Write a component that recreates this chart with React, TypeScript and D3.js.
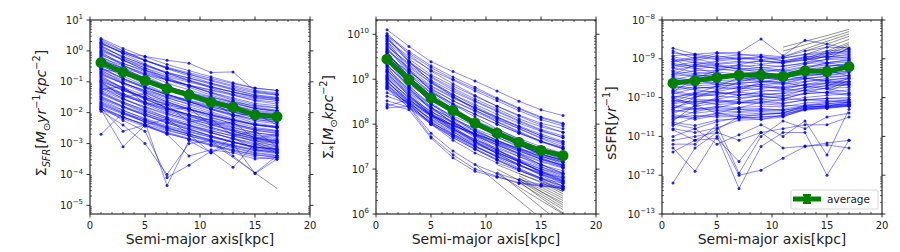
import React from 'react';
import * as d3 from 'd3';

// ---------- data ----------
const radii = [1, 3, 5, 7, 9, 11, 13, 15, 17];
const xTicks = [0, 5, 10, 15, 20];

// log10 Sigma_SFR per galaxy at each radius
const sfrLog: number[][] = [
  [0.40, 0.08, -0.19, -0.44, -0.64, -0.84, -1.03, -1.20, -1.28],
  [0.32, -0.01, -0.29, -0.55, -0.76, -0.97, -1.16, -1.33, -1.42],
  [0.28, -0.10, -0.42, -0.72, -0.96, -1.20, -1.42, -1.62, -1.72],
  [0.22, -0.07, -0.31, -0.53, -0.71, -0.89, -1.06, -1.21, -1.28],
  [0.18, -0.22, -0.56, -0.87, -1.12, -1.37, -1.60, -1.82, -1.92],
  [0.12, -0.19, -0.45, -0.69, -0.88, -1.08, -1.26, -1.42, -1.50],
  [0.06, -0.30, -0.61, -0.89, -1.12, -1.35, -1.56, -1.75, -1.84],
  [0.02, -0.26, -0.49, -0.71, -0.88, -1.05, -1.21, -1.36, -1.43],
  [-0.04, -0.46, -0.81, -1.14, -1.40, -1.67, -1.91, -2.13, -2.24],
  [-0.08, -0.40, -0.68, -0.93, -1.13, -1.34, -1.52, -1.70, -1.78],
  [-0.14, -0.41, -0.63, -0.84, -1.01, -1.18, -1.33, -1.47, -1.54],
  [-0.18, -0.56, -0.88, -1.18, -1.42, -1.66, -1.88, -2.08, -2.18],
  [-0.24, -0.58, -0.87, -1.14, -1.36, -1.57, -1.77, -1.95, -2.04],
  [-0.30, -0.55, -0.76, -0.95, -1.11, -1.26, -1.40, -1.54, -1.60],
  [-0.34, -0.74, -1.08, -1.39, -1.64, -1.89, -2.12, -2.34, -2.44],
  [-0.40, -0.70, -0.96, -1.20, -1.39, -1.58, -1.76, -1.92, -2.00],
  [-0.46, -0.82, -1.13, -1.41, -1.64, -1.87, -2.08, -2.27, -2.36],
  [-0.50, -0.76, -0.97, -1.18, -1.34, -1.50, -1.65, -1.78, -1.85],
  [-0.56, -0.89, -1.17, -1.44, -1.65, -1.86, -2.05, -2.22, -2.31],
  [-0.62, -1.01, -1.34, -1.65, -1.89, -2.14, -2.36, -2.57, -2.67],
  [-0.66, -0.95, -1.19, -1.41, -1.59, -1.77, -1.94, -2.09, -2.16],
  [-0.72, -1.07, -1.37, -1.65, -1.87, -2.09, -2.29, -2.48, -2.57],
  [-0.78, -1.05, -1.27, -1.48, -1.65, -1.82, -1.97, -2.11, -2.18],
  [-0.84, -1.22, -1.54, -1.84, -2.08, -2.32, -2.54, -2.74, -2.84],
  [-0.88, -1.18, -1.44, -1.68, -1.87, -2.06, -2.24, -2.40, -2.48],
  [-0.94, -1.28, -1.57, -1.84, -2.06, -2.27, -2.47, -2.65, -2.74],
  [-1.00, -1.28, -1.51, -1.73, -1.90, -2.07, -2.23, -2.38, -2.45],
  [-1.06, -1.42, -1.73, -2.01, -2.24, -2.47, -2.68, -2.87, -2.96],
  [-1.10, -1.39, -1.64, -1.88, -2.06, -2.25, -2.42, -2.57, -2.65],
  [-1.16, -1.54, -1.86, -2.16, -2.40, -2.64, -2.86, -3.06, -3.16],
  [-1.22, -1.54, -1.82, -2.07, -2.27, -2.48, -2.66, -2.84, -2.92],
  [-1.28, -1.57, -1.81, -2.03, -2.21, -2.39, -2.56, -2.71, -2.78],
  [-1.34, -1.70, -2.01, -2.29, -2.52, -2.75, -2.96, -3.15, -3.24],
  [-1.40, -1.70, -1.96, -2.20, -2.39, -2.58, -2.76, -2.92, -3.00],
  [-1.46, -1.79, -2.07, -2.34, -2.55, -2.76, -2.95, -3.12, -3.21],
  [-1.52, -1.80, -2.03, -2.25, -2.42, -2.59, -2.75, -2.90, -2.97],
  [-1.58, -1.92, -2.21, -2.48, -2.70, -2.91, -3.11, -3.29, -3.38],
  [-1.64, -1.93, -2.18, -2.42, -2.60, -2.79, -2.96, -3.11, -3.19],
  [-1.70, -2.02, -2.30, -2.55, -2.75, -2.96, -3.14, -3.32, -3.40],
  [-1.76, -2.05, -2.29, -2.51, -2.69, -2.87, -3.04, -3.19, -3.26],
  [-1.84, -2.14, -2.40, -2.64, -2.83, -3.02, -3.20, -3.36, -3.44],
  [-1.90, -2.19, -2.44, -2.68, -2.86, -3.05, -3.22, -3.37, -3.45],
  [0.37, 0.01, -0.30, -0.58, -0.81, -1.04, -1.25, -1.44, -1.53],
  [0.24, -0.06, -0.32, -0.56, -0.75, -0.94, -1.12, -1.28, -1.36],
  [0.15, -0.18, -0.46, -0.73, -0.94, -1.15, -1.34, -1.51, -1.60],
  [0.09, -0.30, -0.63, -0.94, -1.18, -1.43, -1.65, -1.86, -1.96],
  [-0.01, -0.30, -0.55, -0.79, -0.97, -1.16, -1.33, -1.48, -1.56],
  [-0.11, -0.46, -0.76, -1.04, -1.26, -1.48, -1.68, -1.87, -1.96],
  [-0.21, -0.49, -0.72, -0.94, -1.11, -1.28, -1.44, -1.59, -1.66],
  [-0.27, -0.65, -0.97, -1.27, -1.51, -1.75, -1.97, -2.17, -2.27],
  [-0.37, -0.69, -0.97, -1.22, -1.42, -1.63, -1.81, -1.99, -2.07],
  [-0.43, -0.72, -0.96, -1.18, -1.36, -1.54, -1.71, -1.86, -1.93],
  [-0.53, -0.90, -1.21, -1.51, -1.74, -1.97, -2.19, -2.38, -2.48],
  [-0.59, -0.90, -1.17, -1.42, -1.61, -1.81, -1.99, -2.16, -2.24],
  [-0.69, -1.03, -1.32, -1.59, -1.81, -2.02, -2.22, -2.40, -2.49],
  [-0.75, -1.04, -1.29, -1.53, -1.71, -1.90, -2.07, -2.22, -2.30],
  [-0.81, -1.21, -1.55, -1.86, -2.11, -2.36, -2.59, -2.81, -2.91],
  [-0.91, -1.23, -1.51, -1.76, -1.96, -2.17, -2.35, -2.53, -2.61],
  [-0.97, -1.26, -1.50, -1.72, -1.90, -2.08, -2.25, -2.40, -2.47],
  [-1.03, -1.38, -1.68, -1.96, -2.18, -2.40, -2.60, -2.79, -2.88],
  [-1.13, -1.43, -1.69, -1.93, -2.12, -2.31, -2.49, -2.65, -2.73],
  [-1.19, -1.46, -1.68, -1.89, -2.06, -2.23, -2.38, -2.52, -2.59],
  [-1.31, -1.65, -1.94, -2.21, -2.43, -2.64, -2.84, -3.02, -3.11],
  [-1.37, -1.66, -1.91, -2.15, -2.33, -2.52, -2.69, -2.84, -2.92],
  [-1.49, -1.81, -2.09, -2.34, -2.54, -2.75, -2.93, -3.11, -3.19],
  [-1.55, -1.84, -2.08, -2.30, -2.48, -2.66, -2.83, -2.98, -3.05],
  [-1.67, -1.98, -2.25, -2.50, -2.69, -2.89, -3.07, -3.24, -3.32],
  [-1.73, -2.01, -2.24, -2.46, -2.63, -2.80, -2.96, -3.11, -3.18],
  [-1.81, -2.13, -2.41, -2.66, -2.86, -3.07, -3.25, -3.43, -3.51],
  [-1.88, -2.15, -2.37, -2.58, -2.75, -2.92, -3.07, -3.21, -3.28],
  [0.26, -0.06, -0.18, -0.30, -0.40, -0.70, -0.68, -1.30, -1.40],
  [-0.60, -0.70, -1.05, -1.10, -1.50, -1.62, -2.10, -2.02, -2.40],
  [-1.00, -1.50, -1.38, -1.90, -1.85, -2.40, -2.30, -2.85, -2.70],
  [-1.25, -1.15, -1.70, -1.75, -2.30, -2.20, -2.75, -2.60, -3.10],
  [-1.90, -3.10, -2.40, -2.70, -3.40, -3.20, -3.30, -3.50, -3.45],
  [-2.70, -2.00, -2.30, -4.36, -2.90, -3.30, -3.00, -3.97, -3.50],
  [-1.80, -2.25, -2.60, -4.10, -3.70, -3.25, -3.77, -3.00, -3.30],
  [-1.95, -2.40, -3.00, -4.00, -3.00, -2.90, -3.40, -3.95, -3.40],
  [-1.85, -2.60, -2.40, -2.20, -2.70, -3.30, -2.80, -3.20, -3.30],
];
const sfrBlack = [
  { from: 11, v: [-2.95, -3.45, -3.95, -4.45] },
  { from: 13, v: [-2.60, -2.80, -3.00] },
  { from: 13, v: [-2.70, -2.95, -3.20] },
  { from: 15, v: [-2.90, -3.10] },
];
const sfrAvg = [0.42, 0.21, 0.11, 0.06, 0.038, 0.022, 0.015, 0.0085, 0.0075];

// log10 Sigma_* per galaxy
const massLog: number[][] = [
  [10.10, 9.73, 9.39, 9.17, 8.96, 8.74, 8.51, 8.32, 8.19],
  [10.02, 9.55, 9.18, 8.90, 8.64, 8.40, 8.18, 7.98, 7.82],
  [9.95, 9.40, 8.95, 8.62, 8.32, 8.06, 7.84, 7.62, 7.45],
  [9.90, 9.45, 9.10, 8.85, 8.62, 8.40, 8.20, 8.02, 7.90],
  [9.85, 9.22, 8.74, 8.38, 8.05, 7.78, 7.55, 7.32, 7.15],
  [9.80, 9.30, 8.92, 8.62, 8.36, 8.12, 7.90, 7.68, 7.50],
  [9.75, 9.32, 8.98, 8.72, 8.50, 8.28, 8.06, 7.86, 7.70],
  [9.70, 9.12, 8.68, 8.34, 8.04, 7.78, 7.54, 7.30, 7.10],
  [9.66, 9.18, 8.80, 8.52, 8.28, 8.05, 7.82, 7.62, 7.46],
  [9.62, 8.98, 8.46, 8.08, 7.74, 7.44, 7.18, 6.92, 6.72],
  [9.58, 9.05, 8.64, 8.32, 8.04, 7.78, 7.55, 7.34, 7.18],
  [9.55, 9.12, 8.78, 8.52, 8.30, 8.10, 7.90, 7.70, 7.55],
  [9.50, 8.94, 8.48, 8.14, 7.84, 7.58, 7.34, 7.10, 6.90],
  [9.46, 8.98, 8.58, 8.28, 8.04, 7.80, 7.58, 7.38, 7.21],
  [9.42, 8.82, 8.30, 7.94, 7.62, 7.34, 7.10, 6.86, 6.62],
  [9.38, 8.94, 8.58, 8.30, 8.06, 7.84, 7.64, 7.44, 7.28],
  [9.34, 8.80, 8.36, 8.04, 7.76, 7.50, 7.28, 7.06, 6.84],
  [9.30, 8.88, 8.55, 8.30, 8.08, 7.88, 7.68, 7.50, 7.35],
  [9.26, 8.76, 8.34, 8.04, 7.78, 7.54, 7.32, 7.10, 6.91],
  [9.22, 8.66, 8.18, 7.84, 7.52, 7.26, 7.02, 6.80, 6.57],
  [9.18, 8.74, 8.38, 8.10, 7.86, 7.64, 7.44, 7.24, 7.08],
  [9.14, 8.62, 8.20, 7.88, 7.62, 7.38, 7.16, 6.94, 6.74],
  [9.10, 8.70, 8.36, 8.12, 7.90, 7.70, 7.52, 7.34, 7.20],
  [9.06, 8.56, 8.16, 7.86, 7.60, 7.38, 7.16, 6.96, 6.76],
  [9.02, 8.58, 8.24, 7.98, 7.76, 7.54, 7.34, 7.16, 7.02],
  [8.98, 8.44, 8.02, 7.70, 7.44, 7.20, 6.98, 6.76, 6.54],
  [8.94, 8.54, 8.22, 7.98, 7.78, 7.58, 7.40, 7.22, 7.09],
  [8.90, 8.42, 8.04, 7.76, 7.52, 7.30, 7.10, 6.90, 6.70],
  [8.86, 8.50, 8.20, 7.98, 7.78, 7.60, 7.44, 7.28, 7.16],
  [8.82, 8.36, 8.00, 7.74, 7.50, 7.28, 7.08, 6.88, 6.72],
  [8.78, 8.38, 8.04, 7.78, 7.56, 7.36, 7.18, 7.00, 6.88],
  [8.80, 8.46, 8.18, 7.96, 7.78, 7.62, 7.46, 7.32, 7.20],
  [9.98, 9.62, 9.30, 9.05, 8.82, 8.58, 8.36, 8.16, 8.02],
  [9.88, 9.50, 9.20, 8.98, 8.74, 8.52, 8.30, 8.10, 7.96],
  [9.72, 9.36, 9.06, 8.80, 8.56, 8.34, 8.12, 7.94, 7.82],
  [9.64, 9.26, 8.92, 8.66, 8.44, 8.22, 8.02, 7.84, 7.70],
  [9.52, 9.16, 8.84, 8.58, 8.36, 8.16, 7.96, 7.78, 7.62],
  [9.44, 9.02, 8.70, 8.44, 8.22, 8.00, 7.80, 7.62, 7.48],
  [9.96, 9.58, 9.26, 9.00, 8.78, 8.56, 8.34, 8.14, 8.00],
  [9.92, 9.38, 8.96, 8.66, 8.40, 8.16, 7.94, 7.74, 7.58],
  [9.84, 9.40, 9.04, 8.76, 8.52, 8.30, 8.08, 7.88, 7.74],
  [9.78, 9.20, 8.76, 8.44, 8.16, 7.90, 7.66, 7.44, 7.26],
  [9.68, 9.22, 8.86, 8.60, 8.36, 8.14, 7.94, 7.74, 7.60],
  [9.60, 9.06, 8.62, 8.28, 7.98, 7.72, 7.48, 7.26, 7.06],
  [9.54, 9.08, 8.72, 8.46, 8.22, 8.00, 7.80, 7.60, 7.45],
  [9.48, 8.86, 8.38, 8.02, 7.70, 7.42, 7.18, 6.94, 6.74],
  [9.40, 8.92, 8.52, 8.24, 7.98, 7.76, 7.54, 7.34, 7.18],
  [9.32, 8.84, 8.44, 8.14, 7.88, 7.64, 7.42, 7.22, 7.04],
  [9.28, 8.70, 8.24, 7.90, 7.60, 7.34, 7.10, 6.88, 6.68],
  [9.20, 8.78, 8.44, 8.18, 7.96, 7.76, 7.56, 7.38, 7.24],
  [9.16, 8.64, 8.22, 7.92, 7.66, 7.42, 7.20, 7.00, 6.82],
  [9.08, 8.64, 8.28, 8.02, 7.80, 7.60, 7.40, 7.22, 7.08],
  [9.04, 8.50, 8.06, 7.74, 7.46, 7.22, 7.00, 6.80, 6.62],
  [9.00, 8.60, 8.28, 8.04, 7.84, 7.64, 7.46, 7.28, 7.14],
  [8.96, 8.48, 8.10, 7.82, 7.58, 7.36, 7.16, 6.96, 6.80],
  [8.92, 8.52, 8.20, 7.96, 7.74, 7.54, 7.36, 7.18, 7.04],
  [8.88, 8.40, 8.00, 7.70, 7.44, 7.20, 6.98, 6.78, 6.62],
  [8.84, 8.44, 8.12, 7.88, 7.66, 7.46, 7.28, 7.10, 6.96],
  [8.45, 8.32, 7.69, 7.25, 6.95, 6.82, 6.70, 6.64, 6.56],
  [8.36, 8.40, 7.80, 7.40, 7.10, 6.90, 6.76, 6.66, 6.60],
  [8.52, 8.38, 7.72, 7.32, 7.00, 6.84, 6.68, 6.62, 6.58],
  [8.62, 8.45, 8.00, 7.64, 7.36, 7.14, 6.96, 6.80, 6.68],
  [8.70, 8.48, 8.10, 7.78, 7.50, 7.28, 7.08, 6.92, 6.80],
  [8.40, 8.55, 8.20, 7.90, 7.64, 7.42, 7.22, 7.04, 6.90],
];
const massBlack = [
  { from: 9, v: [7.10, 6.70, 6.30, 5.90, 5.50] },
  { from: 11, v: [6.95, 6.55, 6.15, 5.75] },
  { from: 11, v: [6.90, 6.60, 6.30, 6.00] },
  { from: 11, v: [7.00, 6.75, 6.50, 6.25] },
  { from: 11, v: [7.10, 6.90, 6.70, 6.50] },
  { from: 13, v: [6.80, 6.55, 6.30] },
  { from: 13, v: [6.75, 6.45, 6.15] },
  { from: 13, v: [6.85, 6.60, 6.35] },
  { from: 13, v: [6.70, 6.40, 6.10] },
  { from: 13, v: [6.80, 6.50, 6.20] },
  { from: 13, v: [6.72, 6.36, 6.02] },
  { from: 13, v: [6.90, 6.72, 6.55] },
  { from: 15, v: [6.70, 6.45] },
  { from: 15, v: [6.65, 6.40] },
  { from: 15, v: [6.75, 6.50] },
];
const massAvg = [2.8e9, 9.8e8, 3.8e8, 2.0e8, 1.05e8, 6.3e7, 3.9e7, 2.6e7, 2.0e7];

// log10 sSFR per galaxy
const ssfrLog: number[][] = [
  [-8.73, -8.88, -8.84, -8.84, -8.49, -8.92, -8.52, -8.62, -8.74],
  [-8.80, -9.00, -8.86, -8.88, -8.94, -9.05, -8.98, -9.10, -9.20],
  [-8.92, -8.88, -8.96, -8.90, -8.90, -8.95, -8.80, -8.70, -8.72],
  [-9.00, -9.10, -9.18, -9.25, -9.36, -9.44, -9.50, -9.58, -9.66],
  [-9.06, -8.96, -9.02, -8.98, -9.04, -9.10, -8.96, -8.86, -8.82],
  [-9.12, -9.20, -9.15, -9.28, -9.22, -9.30, -9.35, -9.30, -9.44],
  [-9.18, -9.08, -9.14, -9.10, -9.06, -9.12, -9.02, -8.94, -8.92],
  [-9.24, -9.34, -9.42, -9.48, -9.56, -9.62, -9.70, -9.78, -9.86],
  [-9.30, -9.18, -9.24, -9.20, -9.16, -9.20, -9.10, -9.02, -9.00],
  [-9.36, -9.46, -9.40, -9.52, -9.48, -9.56, -9.50, -9.56, -9.60],
  [-9.42, -9.30, -9.30, -9.24, -9.28, -9.30, -9.20, -9.12, -9.08],
  [-9.48, -9.56, -9.62, -9.66, -9.72, -9.78, -9.82, -9.88, -9.94],
  [-9.54, -9.42, -9.46, -9.38, -9.36, -9.40, -9.28, -9.20, -9.14],
  [-9.60, -9.70, -9.66, -9.72, -9.66, -9.74, -9.68, -9.64, -9.70],
  [-9.66, -9.54, -9.50, -9.44, -9.40, -9.42, -9.32, -9.26, -9.18],
  [-9.72, -9.80, -9.86, -9.92, -9.96, -10.02, -10.06, -10.08, -10.12],
  [-9.78, -9.64, -9.62, -9.56, -9.50, -9.50, -9.40, -9.34, -9.26],
  [-9.84, -9.92, -9.86, -9.94, -9.88, -9.96, -9.90, -9.86, -9.90],
  [-9.90, -9.76, -9.72, -9.64, -9.58, -9.58, -9.46, -9.38, -9.32],
  [-9.96, -10.04, -10.08, -10.12, -10.16, -10.20, -10.22, -10.24, -10.20],
  [-10.02, -9.86, -9.84, -9.74, -9.66, -9.64, -9.52, -9.44, -9.36],
  [-10.08, -10.16, -10.10, -10.14, -10.08, -10.14, -10.06, -10.02, -10.04],
  [-10.14, -9.98, -9.92, -9.84, -9.76, -9.72, -9.60, -9.50, -9.42],
  [-10.20, -10.28, -10.26, -10.30, -10.28, -10.32, -10.26, -10.20, -10.16],
  [-10.26, -10.10, -10.04, -9.94, -9.84, -9.80, -9.66, -9.56, -9.48],
  [-10.32, -10.40, -10.34, -10.36, -10.30, -10.34, -10.22, -10.16, -10.10],
  [-10.40, -10.22, -10.14, -10.04, -9.94, -9.88, -9.74, -9.62, -9.52],
  [-10.48, -10.56, -10.46, -10.44, -10.40, -10.42, -10.30, -10.24, -10.18],
  [-10.56, -10.36, -10.26, -10.14, -10.02, -9.96, -9.80, -9.68, -9.58],
  [-10.64, -10.72, -10.58, -10.54, -10.50, -10.48, -10.32, -10.28, -10.22],
  [-10.72, -10.50, -10.40, -10.26, -10.12, -10.04, -9.88, -9.74, -9.64],
  [-10.80, -10.90, -10.78, -10.58, -10.56, -10.50, -10.30, -10.26, -10.20],
  [-10.83, -11.10, -10.82, -10.50, -10.44, -10.40, -10.20, -10.12, -10.06],
  [-9.02, -9.24, -9.38, -9.46, -9.40, -9.56, -9.44, -9.38, -9.30],
  [-9.40, -9.16, -9.06, -9.00, -8.94, -8.98, -8.88, -8.80, -8.76],
  [-9.85, -9.50, -9.30, -9.15, -9.05, -9.10, -9.00, -8.90, -8.85],
  [-10.30, -10.00, -9.80, -9.60, -9.46, -9.40, -9.25, -9.10, -9.02],
  [-10.10, -9.90, -9.70, -9.50, -9.36, -9.26, -9.14, -9.00, -8.95],
  [-10.60, -10.20, -10.00, -9.80, -9.60, -9.50, -9.36, -9.20, -9.12],
  [-10.00, -10.20, -10.40, -10.50, -10.56, -10.45, -10.28, -10.22, -10.12],
  [-8.85, -8.92, -9.00, -8.95, -9.02, -8.98, -8.90, -8.85, -8.80],
  [-8.95, -9.05, -8.92, -9.02, -8.96, -9.06, -8.94, -8.96, -8.88],
  [-9.08, -9.00, -9.12, -9.06, -9.14, -9.08, -9.04, -8.94, -8.98],
  [-9.15, -9.26, -9.20, -9.16, -9.24, -9.18, -9.12, -9.10, -9.04],
  [-9.22, -9.14, -9.26, -9.32, -9.28, -9.34, -9.22, -9.16, -9.20],
  [-9.33, -9.38, -9.34, -9.40, -9.34, -9.44, -9.36, -9.28, -9.24],
  [-9.45, -9.40, -9.48, -9.44, -9.52, -9.46, -9.40, -9.42, -9.34],
  [-9.52, -9.60, -9.56, -9.54, -9.58, -9.62, -9.50, -9.46, -9.44],
  [-9.63, -9.56, -9.66, -9.62, -9.60, -9.66, -9.58, -9.54, -9.50],
  [-9.70, -9.76, -9.72, -9.78, -9.70, -9.76, -9.66, -9.62, -9.60],
  [-9.82, -9.72, -9.78, -9.74, -9.80, -9.84, -9.74, -9.70, -9.66],
  [-9.88, -9.96, -9.90, -9.86, -9.92, -9.90, -9.82, -9.76, -9.74],
  [-9.98, -9.90, -9.96, -10.00, -9.96, -10.02, -9.90, -9.86, -9.80],
  [-10.06, -10.12, -10.06, -10.10, -10.04, -10.08, -10.00, -9.94, -9.90],
  [-10.16, -10.08, -10.18, -10.14, -10.12, -10.16, -10.06, -10.02, -10.00],
  [-10.24, -10.32, -10.22, -10.26, -10.22, -10.24, -10.14, -10.10, -10.06],
  [-10.36, -10.28, -10.32, -10.30, -10.34, -10.30, -10.20, -10.16, -10.12],
  [-10.44, -10.52, -10.42, -10.38, -10.36, -10.38, -10.26, -10.22, -10.18],
  [-10.52, -10.46, -10.50, -10.48, -10.44, -10.40, -10.24, -10.20, -10.16],
  [-10.68, -10.80, -10.62, -10.52, -10.50, -10.46, -10.30, -10.26, -10.22],
  [-12.20, -11.30, -10.90, -11.10, -10.90, -10.80, -10.70, -10.70, -10.50],
  [-11.30, -11.90, -11.00, -12.34, -11.26, -10.90, -10.90, -12.00, -11.10],
  [-11.10, -11.00, -10.90, -12.00, -11.87, -11.56, -11.26, -11.17, -11.10],
  [-11.40, -11.10, -11.05, -11.65, -10.90, -11.30, -11.25, -11.22, -11.30],
  [-11.00, -10.80, -11.20, -10.96, -10.70, -11.00, -10.60, -11.48, -10.30],
  [-11.20, -11.20, -10.70, -11.95, -11.00, -10.60, -10.80, -10.50, -10.40],
];
const ssfrBlack = [
  { from: 11, v: [-8.70, -8.55, -8.40, -8.24] },
  { from: 11, v: [-8.80, -8.64, -8.48, -8.30] },
  { from: 11, v: [-8.95, -8.75, -8.55, -8.36] },
  { from: 13, v: [-8.80, -8.62, -8.42] },
  { from: 13, v: [-8.90, -8.70, -8.50] },
  { from: 13, v: [-9.00, -8.80, -8.58] },
  { from: 13, v: [-9.05, -8.85, -8.62] },
  { from: 13, v: [-9.10, -8.92, -8.75] },
  { from: 15, v: [-8.90, -8.66] },
  { from: 15, v: [-9.00, -8.72] },
  { from: 15, v: [-9.70, -9.50] },
  { from: 15, v: [-9.80, -9.55] },
  { from: 15, v: [-9.85, -9.62] },
];
const ssfrAvg = [2.35e-10, 2.75e-10, 3.3e-10, 3.8e-10, 3.8e-10, 3.5e-10, 4.9e-10, 4.7e-10, 6.3e-10];

const sfrExps = [1, 0, -1, -2, -3, -4, -5];
const massExps = [10, 9, 8, 7, 6];
const ssfrExps = [-8, -9, -10, -11, -12, -13];

const xLabel = 'Semi-major axis[kpc]';
const legendLabel = 'average';

type Part = { t: string; it?: boolean; pos?: 'sub' | 'sup' };
const sfrLabel: Part[] = [
  { t: 'Σ' }, { t: 'SFR', it: true, pos: 'sub' }, { t: '[' }, { t: 'M', it: true },
  { t: '⊙', pos: 'sub' }, { t: 'yr', it: true }, { t: '−1', pos: 'sup' },
  { t: 'kpc', it: true }, { t: '−2', pos: 'sup' }, { t: ']' },
];
const massLabel: Part[] = [
  { t: 'Σ' }, { t: '*', pos: 'sub' }, { t: '[' }, { t: 'M', it: true },
  { t: '⊙', pos: 'sub' }, { t: 'kpc', it: true }, { t: '−2', pos: 'sup' }, { t: ']' },
];
const ssfrLabel: Part[] = [
  { t: 'sSFR[' }, { t: 'yr', it: true }, { t: '−1', pos: 'sup' }, { t: ']' },
];

// ---------- layout ----------
const FONT = "'DejaVu Sans', Verdana, sans-serif";
const TOP = 20;
const BOTTOM = 214;

const fmtExp = (e: number) => (e < 0 ? '\u2212' + Math.abs(e) : String(e));

function MathText({ parts, fs }: { parts: Part[]; fs: number }) {
  let cur = 0;
  return (
    <>
      {parts.map((p, i) => {
        const target = p.pos === 'sub' ? 0.28 * fs : p.pos === 'sup' ? -0.42 * fs : 0;
        const dy = target - cur;
        cur = target;
        return (
          <tspan key={i} dy={dy} fontSize={p.pos ? fs * 0.7 : fs} fontStyle={p.it ? 'italic' : 'normal'}>
            {p.t}
          </tspan>
        );
      })}
    </>
  );
}

type Black = { from: number; v: number[] };
type PanelProps = {
  id: string;
  left: number;
  right: number;
  yDomain: [number, number];
  exps: number[];
  lines: number[][];
  black: Black[];
  avg: number[];
  label: Part[];
  labelX: number;
  labelY: number;
  legend?: boolean;
};

function Panel(p: PanelProps) {
  const x = d3.scaleLinear().domain([0, 20]).range([p.left, p.right]);
  const y = d3.scaleLog().domain(p.yDomain).range([BOTTOM, TOP]);
  const line = d3
    .line<[number, number]>()
    .x((d) => x(d[0]))
    .y((d) => y(d[1]));

  const lo = Math.floor(Math.log10(p.yDomain[0]));
  const hi = Math.ceil(Math.log10(p.yDomain[1]));
  const minors: number[] = [];
  for (let e = lo; e < hi; e++) {
    for (let k = 2; k <= 9; k++) {
      const v = k * Math.pow(10, e);
      if (v >= p.yDomain[0] && v <= p.yDomain[1]) minors.push(v);
    }
  }
  const xMinors = d3.range(0, 21).filter((v) => v % 5 !== 0);
  const clip = `clip-${p.id}`;

  return (
    <g>
      <defs>
        <clipPath id={clip}>
          <rect x={p.left} y={TOP} width={p.right - p.left} height={BOTTOM - TOP} />
        </clipPath>
      </defs>
      <g clipPath={`url(#${clip})`}>
        {p.black.map((b, i) => {
          const pts: [number, number][] = b.v.map((v, j) => [b.from + 2 * j, Math.pow(10, v)]);
          return <path key={'b' + i} d={line(pts) || ''} fill="none" stroke="#000" strokeWidth={0.7} strokeOpacity={0.6} />;
        })}
        {p.lines.map((l, i) => {
          const pts: [number, number][] = l.map((v, j) => [radii[j], Math.pow(10, v)]);
          return (
            <g key={'l' + i}>
              <path d={line(pts) || ''} fill="none" stroke="#0000ff" strokeWidth={0.85} strokeOpacity={0.55} />
              {pts.map((d, j) => (
                <circle key={j} cx={x(d[0])} cy={y(d[1])} r={1.5} fill="#0000ff" fillOpacity={0.85} />
              ))}
            </g>
          );
        })}
        <path
          d={line(p.avg.map((v, j) => [radii[j], v] as [number, number])) || ''}
          fill="none"
          stroke="#008000"
          strokeWidth={5}
        />
        {p.avg.map((v, j) => (
          <circle key={'a' + j} cx={x(radii[j])} cy={y(v)} r={5.5} fill="#008000" />
        ))}
      </g>
      {/* frame */}
      <rect x={p.left} y={TOP} width={p.right - p.left} height={BOTTOM - TOP} fill="none" stroke="#000" strokeWidth={1} />
      {/* x ticks */}
      {xTicks.map((t) => (
        <g key={'xt' + t}>
          <line x1={x(t)} x2={x(t)} y1={BOTTOM} y2={BOTTOM + 3.5} stroke="#000" strokeWidth={0.8} />
          <line x1={x(t)} x2={x(t)} y1={TOP} y2={TOP - 3.5} stroke="#000" strokeWidth={0.8} />
          <text x={x(t)} y={BOTTOM + 15} textAnchor="middle" fontSize={10} fontFamily={FONT} fill="#222">
            {t}
          </text>
        </g>
      ))}
      {xMinors.map((t) => (
        <g key={'xm' + t}>
          <line x1={x(t)} x2={x(t)} y1={BOTTOM} y2={BOTTOM - 2} stroke="#000" strokeWidth={0.6} />
          <line x1={x(t)} x2={x(t)} y1={TOP} y2={TOP + 2} stroke="#000" strokeWidth={0.6} />
        </g>
      ))}
      {/* y ticks */}
      {p.exps.map((e) => {
        const yy = y(Math.pow(10, e));
        return (
          <g key={'yt' + e}>
            <line x1={p.left} x2={p.left - 3.5} y1={yy} y2={yy} stroke="#000" strokeWidth={0.8} />
            <line x1={p.right} x2={p.right + 3.5} y1={yy} y2={yy} stroke="#000" strokeWidth={0.8} />
            <text x={p.left - 7} y={yy + 3.6} textAnchor="end" fontSize={10} fontFamily={FONT} fill="#222">
              <tspan>10</tspan>
              <tspan fontSize={7} dy={-4.5}>
                {fmtExp(e)}
              </tspan>
            </text>
          </g>
        );
      })}
      {minors.map((v, i) => {
        const yy = y(v);
        return (
          <g key={'ym' + i}>
            <line x1={p.left} x2={p.left + 2} y1={yy} y2={yy} stroke="#000" strokeWidth={0.6} />
            <line x1={p.right} x2={p.right - 2} y1={yy} y2={yy} stroke="#000" strokeWidth={0.6} />
          </g>
        );
      })}
      {/* axis labels */}
      <text x={(p.left + p.right) / 2} y={243.5} textAnchor="middle" fontSize={14} fontFamily={FONT} fill="#222">
        {xLabel}
      </text>
      <text
        transform={`translate(${p.labelX},${p.labelY}) rotate(-90)`}
        textAnchor="middle"
        fontFamily={FONT}
        fontSize={14}
        fill="#222"
      >
        <MathText parts={p.label} fs={14} />
      </text>
      {p.legend && (
        <g>
          <rect x={791} y={190} width={87} height={19} rx={2} fill="#fff" fillOpacity={0.8} stroke="#cccccc" strokeWidth={0.8} />
          <line x1={793} x2={821} y1={199} y2={199} stroke="#008000" strokeWidth={5} />
          <line x1={807} x2={807} y1={195} y2={203} stroke="#008000" strokeWidth={2} />
          <line x1={803} x2={811} y1={195} y2={195} stroke="#008000" strokeWidth={2} />
          <line x1={803} x2={811} y1={203} y2={203} stroke="#008000" strokeWidth={2} />
          <circle cx={807} cy={199} r={4} fill="#008000" />
          <text x={827} y={203} fontSize={10.5} fontFamily={FONT} fill="#222">
            {legendLabel}
          </text>
        </g>
      )}
    </g>
  );
}

export default function App() {
  return (
    <svg
      width={900}
      height={252}
      viewBox="0 0 900 252"
      style={{ position: 'absolute', left: 0, top: 0, background: '#fff' }}
    >
      <rect width={900} height={252} fill="#fff" />
      <Panel
        id="sfr"
        left={90}
        right={310}
        yDomain={[Math.pow(10, -5.28), 10]}
        exps={sfrExps}
        lines={sfrLog}
        black={sfrBlack}
        avg={sfrAvg}
        label={sfrLabel}
        labelX={46}
        labelY={113}
      />
      <Panel
        id="mass"
        left={376}
        right={596}
        yDomain={[1e6, Math.pow(10, 10.318)]}
        exps={massExps}
        lines={massLog}
        black={massBlack}
        avg={massAvg}
        label={massLabel}
        labelX={333}
        labelY={117}
      />
      <Panel
        id="ssfr"
        left={662}
        right={882}
        yDomain={[1e-13, 1e-8]}
        exps={ssfrExps}
        lines={ssfrLog}
        black={ssfrBlack}
        avg={ssfrAvg}
        label={ssfrLabel}
        labelX={615.5}
        labelY={123}
        legend
      />
    </svg>
  );
}
